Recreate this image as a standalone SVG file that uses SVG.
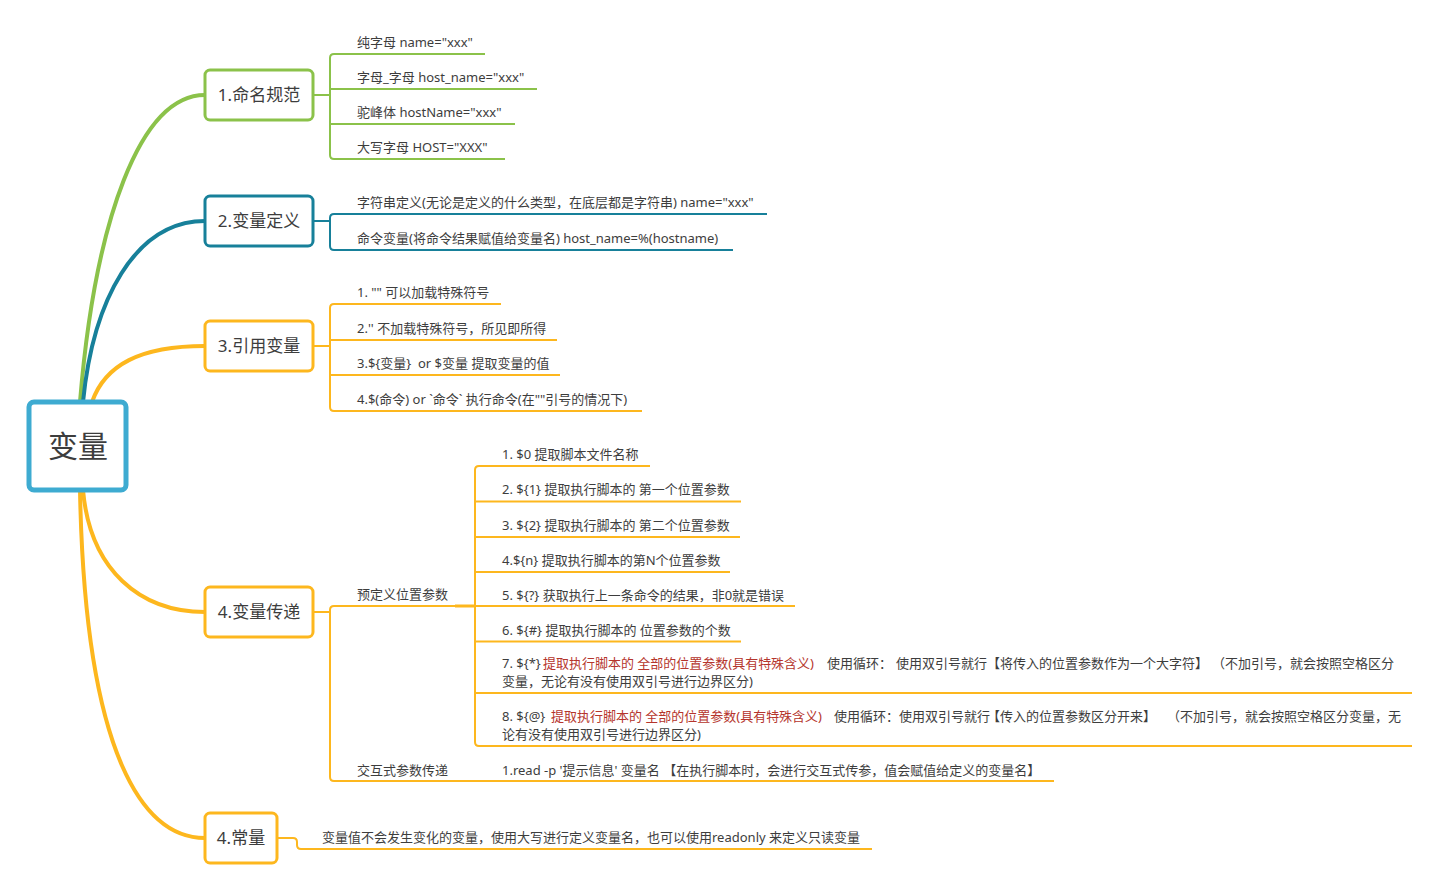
<svg xmlns="http://www.w3.org/2000/svg" width="1440" height="893" viewBox="0 0 1440 893">
<style>
.t{font-family:"Noto Sans","Open Sans","Noto Sans CJK SC",sans-serif;font-size:13px;fill:#3d3d3d}
.n{font-family:"Noto Sans","Open Sans","Noto Sans CJK SC",sans-serif;font-size:17px;fill:#3d3d3d;text-anchor:middle}
.r{fill:#b5352c}
.box{fill:#fff;stroke-width:3}
.g{stroke:#8bc24a}
.b{stroke:#17809a}
.o{stroke:#fdb71e}
.main{fill:none;stroke-width:4;stroke-linecap:round}
.sub{fill:none;stroke-width:2}
</style>
<g id="connectors">
<path class="main g" d="M80,402 C95,220 140,95 205,95"/>
<path class="main b" d="M83,402 C93,300 135,221 205,221"/>
<path class="main o" d="M92,402 C105,365 140,346 205,346"/>
<path class="main o" d="M83,490 C90,570 140,612 205,612"/>
<path class="main o" d="M80,490 C85,760 145,838 205,838"/>
<g class="sub g">
<path d="M313,95 H330"/>
<path d="M330,95 V58 Q330,54 334,54 H485"/>
<path d="M330,95 V155 Q330,159 334,159 H505"/>
<path d="M330,89 H537"/>
<path d="M330,124 H515"/>
</g>
<g class="sub b">
<path d="M313,221 H330"/>
<path d="M330,221 V218 Q330,214 334,214 H767"/>
<path d="M330,221 V246 Q330,250 334,250 H733"/>
</g>
<g class="sub o">
<path d="M313,346 H330"/>
<path d="M330,346 V308 Q330,304 334,304 H501"/>
<path d="M330,346 V407 Q330,411 334,411 H642"/>
<path d="M330,340 H557"/>
<path d="M330,375 H560"/>
<path d="M313,612 H330"/>
<path d="M330,612 V610 Q330,606 334,606 H475"/>
<path d="M330,612 V777 Q330,781 334,781 H1054"/>
<path d="M455,606 H475" stroke-width="3"/>
<path d="M475,606 V470 Q475,466 479,466 H650"/>
<path d="M475,606 V742 Q475,746 479,746 H1412"/>
<path d="M475,501.5 H741"/>
<path d="M475,537 H740"/>
<path d="M475,572 H730"/>
<path d="M475,606 H795"/>
<path d="M475,641.5 H741"/>
<path d="M475,693 H1412"/>
<path d="M277,838 H293 Q297,838 297,842 V845 Q297,849 301,849 H872"/>
</g>
</g>
<g id="root">
<rect x="29" y="402" width="97" height="88" rx="5" fill="#fff" stroke="#3eabd1" stroke-width="5"/>
<text x="78" y="457" class="n" style="font-size:30px">变量</text>
</g>
<g id="n1">
<rect class="box g" x="205" y="70" width="108" height="50" rx="5"/>
<text class="n" x="259" y="101">1.命名规范</text>
</g>
<g id="n1c">
<text class="t" x="357" y="47">纯字母 name="xxx"</text>
<text class="t" x="357" y="82">字母_字母 host_name="xxx"</text>
<text class="t" x="357" y="117">驼峰体 hostName="xxx"</text>
<text class="t" x="357" y="152">大写字母 HOST="XXX"</text>
</g>
<g id="n2">
<rect class="box b" x="205" y="196" width="108" height="50" rx="5"/>
<text class="n" x="259" y="227">2.变量定义</text>
</g>
<g id="n2c">
<text class="t" x="357" y="207">字符串定义(无论是定义的什么类型，在底层都是字符串) name="xxx"</text>
<text class="t" x="357" y="243">命令变量(将命令结果赋值给变量名) host_name=%(hostname)</text>
</g>
<g id="n3">
<rect class="box o" x="205" y="321" width="108" height="50" rx="5"/>
<text class="n" x="259" y="352">3.引用变量</text>
</g>
<g id="n3c">
<text class="t" x="357" y="297">1. "" 可以加载特殊符号</text>
<text class="t" x="357" y="333">2.'' 不加载特殊符号，所见即所得</text>
<text class="t" x="357" y="368">3.${变量}&#160; or $变量 提取变量的值</text>
<text class="t" x="357" y="404">4.$(命令) or `命令` 执行命令(在""引号的情况下)</text>
</g>
<g id="n4">
<rect class="box o" x="205" y="587" width="108" height="50" rx="5"/>
<text class="n" x="259" y="618">4.变量传递</text>
</g>
<g id="n4a">
<text class="t" x="357" y="599">预定义位置参数</text>
</g>
<g id="n4a-c">
<text class="t" x="502" y="459">1. $0 提取脚本文件名称</text>
<text class="t" x="502" y="494">2. ${1} 提取执行脚本的 第一个位置参数</text>
<text class="t" x="502" y="530">3. ${2} 提取执行脚本的 第二个位置参数</text>
<text class="t" x="502" y="565">4.${n} 提取执行脚本的第N个位置参数</text>
<text class="t" x="502" y="600">5. ${?} 获取执行上一条命令的结果，非0就是错误</text>
<text class="t" x="502" y="635">6. ${#} 提取执行脚本的 位置参数的个数</text>
<text class="t" y="668"><tspan x="502">7. ${*}</tspan><tspan class="r" x="543" textLength="271" lengthAdjust="spacing">提取执行脚本的 全部的位置参数(具有特殊含义)</tspan><tspan x="827">使用循环：</tspan><tspan x="896">使用双引号就行【将传入的位置参数作为一个大字符】</tspan><tspan x="1212">（不加引号，就会按照空格区分</tspan></text>
<text class="t" x="502" y="686">变量，无论有没有使用双引号进行边界区分)</text>
<text class="t" y="721"><tspan x="502">8. ${@}</tspan><tspan class="r" x="551" textLength="271" lengthAdjust="spacing">提取执行脚本的 全部的位置参数(具有特殊含义)</tspan><tspan x="834">使用循环：使用双引号就行</tspan><tspan x="987">【传入的位置参数区分开来】</tspan><tspan x="1167">（不加引号，就会按照空格区分变量，无</tspan></text>
<text class="t" x="502" y="739">论有没有使用双引号进行边界区分)</text>
</g>
<g id="n4b">
<text class="t" x="357" y="775">交互式参数传递</text>
<text class="t" x="502" y="775">1.read -p '提示信息' 变量名 【在执行脚本时，会进行交互式传参，值会赋值给定义的变量名】</text>
</g>
<g id="n5">
<rect class="box o" x="205" y="813" width="72" height="50" rx="5"/>
<text class="n" x="241" y="844">4.常量</text>
</g>
<g id="n5c">
<text class="t" x="322" y="842">变量值不会发生变化的变量，使用大写进行定义变量名，也可以使用readonly 来定义只读变量</text>
</g>
</svg>
